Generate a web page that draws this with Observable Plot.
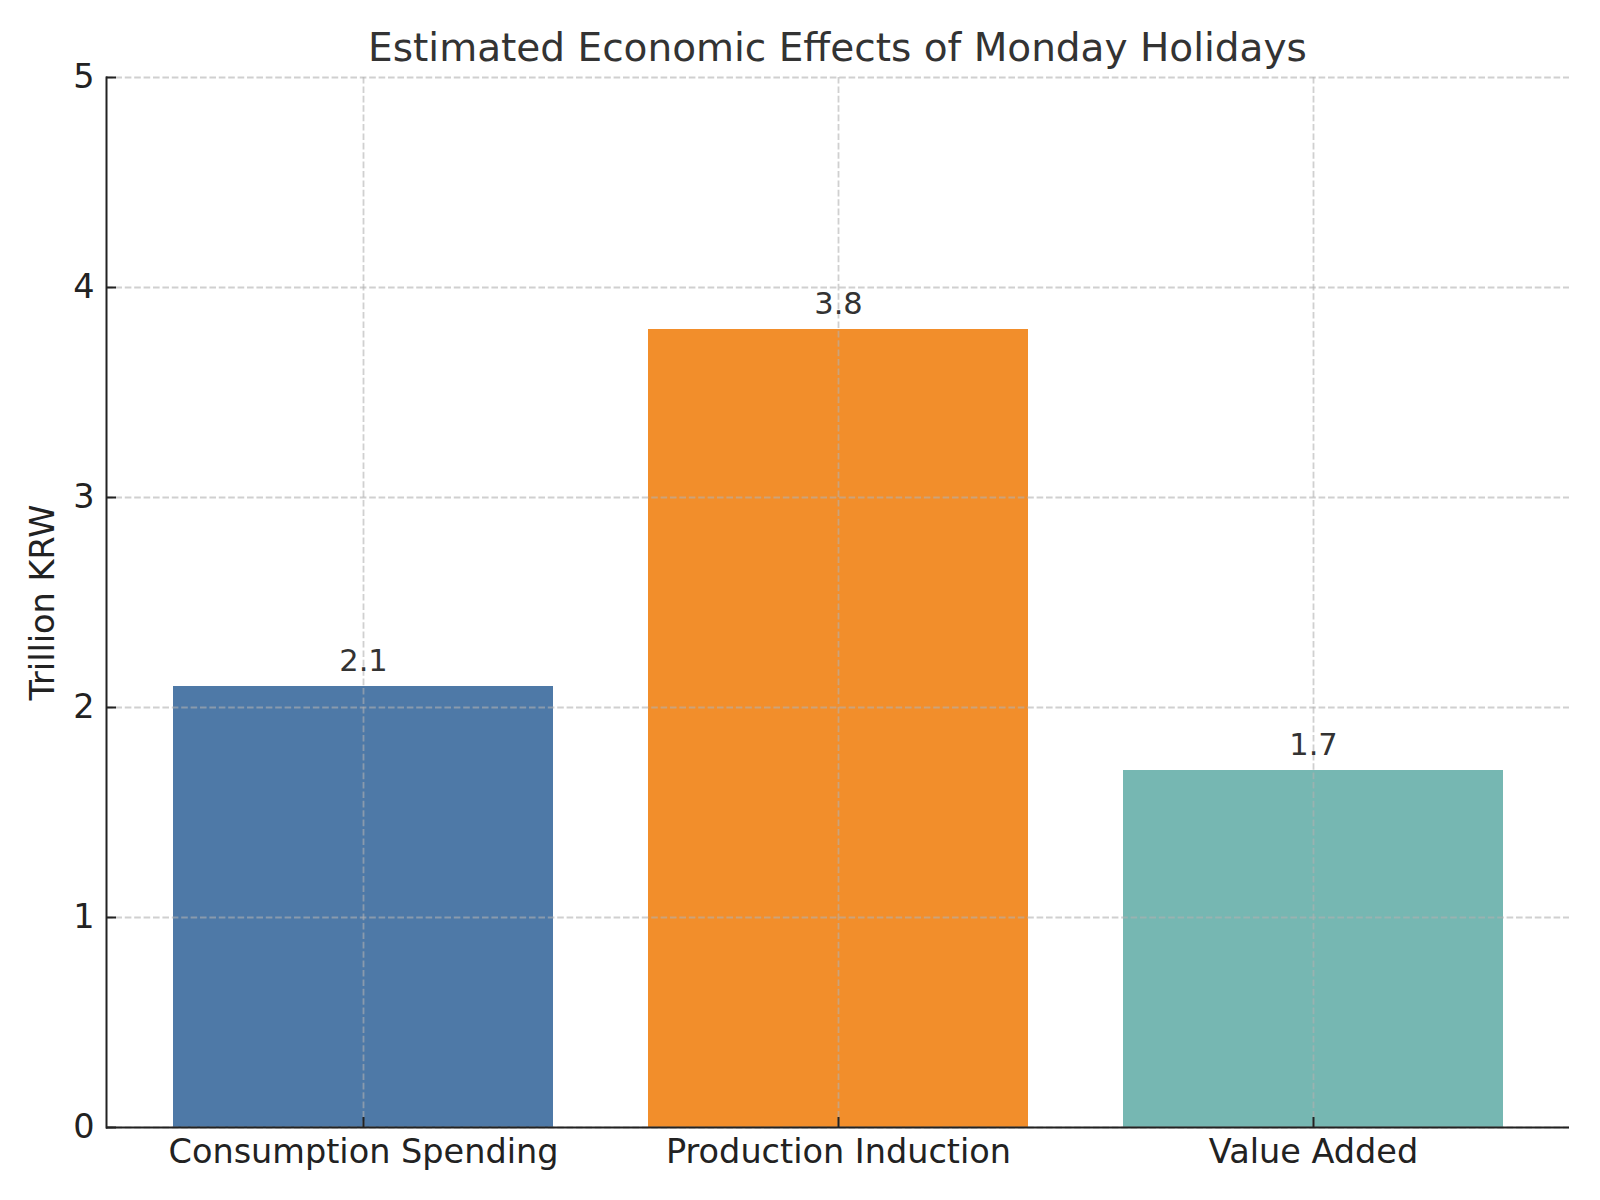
<!DOCTYPE html>
<html>
<head>
<meta charset="utf-8">
<script src="https://cdn.jsdelivr.net/npm/d3@7"></script>
<script src="https://cdn.jsdelivr.net/npm/@observablehq/plot@0.6"></script>
<style>
  body { margin: 0; background: #fff; }
  #wrap { width: 1600px; }
  #title {
    box-sizing: border-box; height: 58px; padding: 25px 31px 0 106px;
    font: 39px "DejaVu Sans", sans-serif; line-height: 45px; color: #333;
    text-align: center; white-space: nowrap; overflow: visible;
  }
</style>
</head>
<body>
<div id="wrap">
  <div id="title">Estimated Economic Effects of Monday Holidays</div>
  <div id="chart"></div>
</div>
<script>
const categories = ["Consumption Spending", "Production Induction", "Value Added"];
const values = [2.1, 3.8, 1.7];
const colors = ["#4e79a7", "#f28e2b", "#76b7b2"];
const yTicks = [0, 1, 2, 3, 4, 5];
const yLabel = "Trillion KRW";

const data = categories.map((c, i) => ({category: c, value: values[i]}));

const W = 1600, H = 1142, ML = 106, MR = 31, MT = 19, MB = 73;
const frameW = W - ML - MR, frameH = H - MT - MB;
const tickLen = 10;

const gridStyle = {stroke: "#b0b0b0", strokeOpacity: 0.6, strokeWidth: 1.8, strokeDasharray: "6.6,2.8"};

const chart = Plot.plot({
  width: W,
  height: H,
  marginLeft: ML,
  marginRight: MR,
  marginTop: MT,
  marginBottom: MB,
  style: {fontFamily: '"DejaVu Sans", sans-serif', fontSize: "33.5px", color: "#222", background: "#fff", overflow: "visible"},
  x: {type: "band", domain: categories, paddingInner: 0.2, paddingOuter: 0.14, label: null},
  y: {domain: [0, 5], label: null},
  color: {domain: categories, range: colors},
  marks: [
    Plot.barY(data, {x: "category", y: "value", fill: "category"}),
    Plot.gridY(yTicks, gridStyle),
    Plot.gridX(categories, gridStyle),
    Plot.text(data, {x: "category", y: "value", text: d => d.value.toFixed(1), dy: -25, lineAnchor: "middle", fontSize: 30.5, fill: "#333"}),
    // inward ticks
    Plot.tickY(yTicks, {y: d => d, insetRight: frameW - tickLen, stroke: "#222", strokeWidth: 2}),
    Plot.tickX(categories, {x: d => d, insetTop: frameH - tickLen, stroke: "#222", strokeWidth: 2}),
    Plot.axisY(yTicks, {tickSize: 0, tickPadding: 12, tickFormat: d => String(d), label: yLabel, labelAnchor: "center", labelOffset: 76, labelArrow: "none"}),
    Plot.axisX(categories, {tickSize: 0, tickPadding: 12, label: null}),
    Plot.ruleY([0], {stroke: "#222", strokeWidth: 2}),
    Plot.frame({anchor: "left", stroke: "#222", strokeWidth: 2})
  ]
});
document.getElementById("chart").appendChild(chart);
</script>
</body>
</html>
